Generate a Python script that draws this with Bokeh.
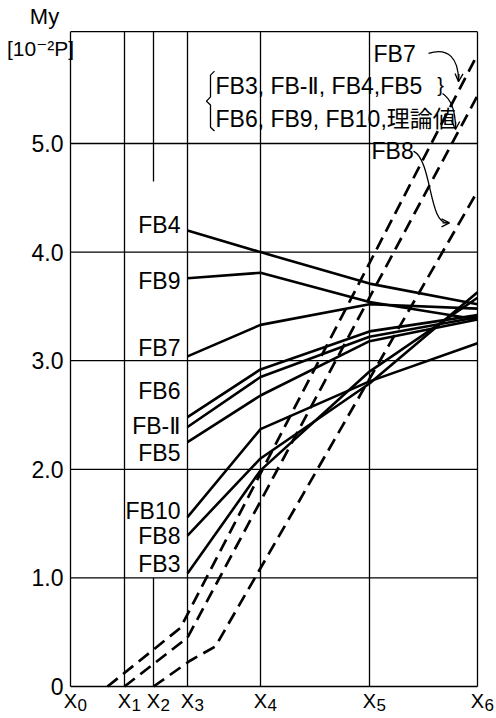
from bokeh.plotting import figure
from bokeh.models import Range1d, Arrow, OpenHead
from bokeh.embed import file_html
from bokeh.resources import INLINE
from bokeh.core.properties import value

# ---------------- data ----------------
x_ticks = [0.0, 0.54, 0.83, 1.17, 1.90, 2.99, 4.07]
x_subs = ["0", "1", "2", "3", "4", "5", "6"]
y_ticks = [0, 1, 2, 3, 4, 5]
y_tick_labels = ["0", "1.0", "2.0", "3.0", "4.0", "5.0"]
y_top = 6.03
y_title = "My"
y_unit_label = "[10\u207b\u00b2P]"

x_solid = [1.17, 1.90, 2.99, 4.07]
fb4 = [4.20, 4.00, 3.71, 3.52]
fb9 = [3.76, 3.81, 3.54, 3.38]
fb7 = [3.04, 3.33, 3.52, 3.48]
fb6 = [2.48, 2.92, 3.27, 3.42]
fb2 = [2.39, 2.85, 3.22, 3.40]
fb5 = [2.25, 2.68, 3.18, 3.38]
fb10 = [1.56, 2.37, 2.81, 3.16]
fb8 = [1.39, 2.10, 2.79, 3.63]
fb3 = [1.04, 1.99, 2.90, 3.58]
solid_series = [fb4, fb9, fb7, fb6, fb2, fb5, fb10, fb8, fb3]
solid_names = ["FB4", "FB9", "FB7", "FB6", "FB-\u2161", "FB5", "FB10", "FB8", "FB3"]
label_y = [4.25, 3.73, 3.12, 2.72, 2.40, 2.15, 1.62, 1.39, 1.13]

dash_fb7_x = [0.37, 1.10, 4.07]
dash_fb7_y = [0.0, 0.54, 5.82]
dash_theory_x = [0.54, 1.17, 4.07]
dash_theory_y = [0.0, 0.45, 5.44]
dash_fb8_x = [0.83, 1.20, 1.45, 4.07]
dash_fb8_y = [0.0, 0.24, 0.37, 4.56]

FONT = "Liberation Sans, DejaVu Sans, Noto Sans CJK JP"
TF = value(FONT)

p = figure(width=496, height=718, output_backend="svg", toolbar_location=None,
           x_range=Range1d(-0.70, 4.26), y_range=Range1d(-0.2945, 6.317),
           min_border_left=0, min_border_right=0, min_border_top=0, min_border_bottom=0)
p.outline_line_color = None
p.axis.visible = False
p.grid.visible = False

x_left, x_right = x_ticks[0], x_ticks[-1]
# horizontal grid lines and bottom/top border
h_levels = y_ticks + [y_top]
p.segment(x0=[x_left] * len(h_levels), y0=h_levels, x1=[x_right] * len(h_levels), y1=h_levels,
          line_color="black", line_width=1.3)
# vertical grid lines and left/right borders
v_pos = [x_ticks[0], x_ticks[1], x_ticks[3], x_ticks[4], x_ticks[5], x_ticks[6]]
p.segment(x0=v_pos, y0=[0] * len(v_pos), x1=v_pos, y1=[y_top] * len(v_pos),
          line_color="black", line_width=1.3)
# partial X2 line
p.segment(x0=[x_ticks[2], x_ticks[2]], y0=[y_top, 1.0], x1=[x_ticks[2], x_ticks[2]],
          y1=[4.65, 0.0], line_color="black", line_width=1.3)

for ys in solid_series:
    p.line(x_solid, ys, line_color="black", line_width=2.6)

for xs, ys in [(dash_fb7_x, dash_fb7_y), (dash_theory_x, dash_theory_y), (dash_fb8_x, dash_fb8_y)]:
    p.line(xs, ys, line_color="black", line_width=2.7, line_dash="13 7")

# y tick labels and title
p.text(x=[x_left] * len(y_ticks), y=y_ticks, text=y_tick_labels, text_align="right",
       text_baseline="middle", x_offset=-7, text_font=TF, text_font_size="23px",
       text_color="black")
p.text(x=[x_left], y=[y_top], text=[y_title], text_align="center", text_baseline="middle",
       x_offset=-26, y_offset=-15, text_font=TF, text_font_size="22px", text_color="black")
p.text(x=[x_left], y=[y_top], text=[y_unit_label], text_align="center", text_baseline="middle",
       x_offset=-30, y_offset=17, text_font=TF, text_font_size="21px", text_color="black")

# X tick labels with subscripts
p.text(x=x_ticks, y=[0] * len(x_ticks), text=["X"] * len(x_ticks), text_align="center",
       text_baseline="middle", y_offset=14, text_font=TF, text_font_size="20px",
       text_color="black")
p.text(x=x_ticks, y=[0] * len(x_ticks), text=x_subs, text_align="left",
       text_baseline="middle", x_offset=7, y_offset=18, text_font=TF,
       text_font_size="17px", text_color="black")

# series labels
p.text(x=[x_ticks[3]] * len(solid_names), y=label_y, text=solid_names,
       text_align="right", text_baseline="middle", x_offset=-7,
       text_font=TF, text_font_size="23px", text_color="black")

# upper annotations
p.text(x=[3.03, 1.45, 1.45, 3.01], y=[5.82, 5.53, 5.23, 4.93],
       text=["FB7", "FB3, FB-\u2161, FB4,FB5", "FB6, FB9, FB10,\u7406\u8ad6\u5024", "FB8"],
       text_align="left", text_baseline="middle",
       text_font=TF, text_font_size="23px", text_color="black")
p.text(x=[3.70], y=[5.54], text=["}"], text_align="center", text_baseline="middle",
       text_font=TF, text_font_size="20px", text_color="black")
p.line([1.44, 1.40, 1.40, 1.36, 1.40, 1.40, 1.44],
       [5.667, 5.63, 5.43, 5.39, 5.354, 5.15, 5.115], line_color="black", line_width=1.3)

p.bezier(x0=[3.58, 3.72, 3.43], y0=[5.83, 5.46, 4.93],
         x1=[3.88, 3.85, 3.78], y1=[5.58, 5.14, 4.27],
         cx0=[3.78, 3.82, 3.62], cy0=[5.89, 5.40, 4.84],
         cx1=[3.88, 3.85, 3.58], cy1=[5.78, 5.29, 4.24],
         line_color="black", line_width=1.3)
for xs, ys, xe, ye in [(3.885, 5.64, 3.88, 5.57), (3.852, 5.20, 3.85, 5.13), (3.72, 4.27, 3.79, 4.27)]:
    p.add_layout(Arrow(end=OpenHead(size=8, line_width=1.3, line_color="black"),
                       x_start=xs, y_start=ys, x_end=xe, y_end=ye,
                       line_color="black", line_width=1.3))

open("out.html", "w").write(file_html(p, INLINE))
